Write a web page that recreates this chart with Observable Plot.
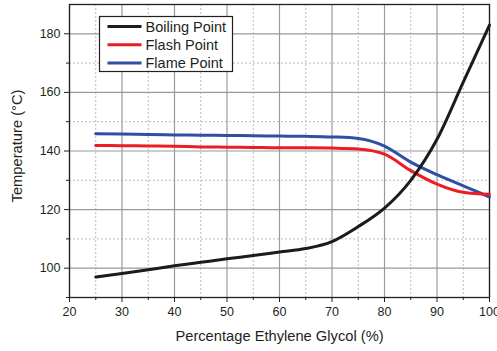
<!DOCTYPE html>
<html><head><meta charset="utf-8">
<script src="https://cdn.jsdelivr.net/npm/d3@7"></script>
<script src="https://cdn.jsdelivr.net/npm/@observablehq/plot@0.6"></script>
<style>
body{margin:0;background:#fff}
svg{font-family:"Liberation Sans",Arial,sans-serif}
</style>
</head><body><div id="chart"></div>
<script>
const seriesNames = ["Boiling Point", "Flash Point", "Flame Point"];
const seriesColors = ["#1c1a1a", "#ec1c24", "#2e4fa3"];
const xValues = [25, 30, 35, 40, 45, 50, 55, 60, 65, 70, 75, 80, 85, 90, 95, 100];
const boilingPoint = [97, 98.2, 99.5, 100.8, 102, 103.2, 104.3, 105.5, 106.7, 109.1, 114.2, 120.5, 130, 144, 163.5, 183];
const flashPoint   = [141.9, 141.8, 141.7, 141.6, 141.4, 141.3, 141.2, 141.1, 141.1, 141, 140.7, 138.9, 133.3, 128.7, 125.9, 125.2];
const flamePoint   = [145.9, 145.8, 145.6, 145.5, 145.4, 145.3, 145.2, 145.1, 145, 144.8, 144.3, 141.7, 136.2, 131.9, 128.1, 124.3];
const xMajorTicks = [20, 30, 40, 50, 60, 70, 80, 90, 100];
const xMinorTicks = [25, 35, 45, 55, 65, 75, 85, 95];
const yMajorTicks = [100, 120, 140, 160, 180];
const yMinorTicks = [90, 110, 130, 150, 170];
const xTitle = "Percentage Ethylene Glycol (%)";
const yTitle = "Temperature (°C)";

const allSeries = [boilingPoint, flashPoint, flamePoint];
const rows = [];
allSeries.forEach((vals, i) => vals.forEach((v, j) => rows.push({series: seriesNames[i], x: xValues[j], y: v})));
const drawOrder = ["Flame Point", "Flash Point", "Boiling Point"];

const plot = Plot.plot({
  width: 497, height: 351,
  marginLeft: 69, marginRight: 8, marginTop: 4, marginBottom: 54,
  style: {fontFamily: '"Liberation Sans", Arial, sans-serif', fontSize: "12.5px", color: "#231f20", background: "#fff"},
  x: {domain: [20, 100]},
  y: {domain: [90, 190]},
  color: {domain: seriesNames, range: seriesColors},
  marks: [
    Plot.gridX(xMinorTicks, {stroke: "#bbb", strokeOpacity: 1, strokeDasharray: "2,2", strokeWidth: 1}),
    Plot.gridY(yMinorTicks.filter(d => d > 90), {stroke: "#bbb", strokeOpacity: 1, strokeDasharray: "2,2", strokeWidth: 1}),
    Plot.gridX(xMajorTicks, {stroke: "#9a9a9a", strokeOpacity: 1, strokeWidth: 1.2}),
    Plot.gridY(yMajorTicks, {stroke: "#9a9a9a", strokeOpacity: 1, strokeWidth: 1.2}),
    Plot.frame({stroke: "#231f20", strokeWidth: 1.3}),
    Plot.axisX(xMajorTicks, {tickSize: 5, tickPadding: 5, label: null, fontSize: 12.5}),
    Plot.axisX(xMinorTicks, {tickSize: 3, tickFormat: () => "", label: null}),
    Plot.axisY(yMajorTicks, {tickSize: 5, tickPadding: 4, label: null, fontSize: 12.5}),
    Plot.axisY(yMinorTicks, {tickSize: 3, tickFormat: () => "", label: null}),
    ...drawOrder.map(name => Plot.line(rows.filter(r => r.series === name), {
      x: "x", y: "y", stroke: "series", strokeWidth: 3, curve: "monotone-x"
    })),
    Plot.text([xTitle], {frameAnchor: "bottom", lineAnchor: "middle", dy: 39, fontSize: 14.7, fill: "#231f20"}),
    Plot.text([yTitle], {frameAnchor: "left", textAnchor: "middle", lineAnchor: "middle", dx: -52, dy: -5, rotate: -90, fontSize: 14.7, fill: "#231f20"})
  ]
});
document.getElementById("chart").appendChild(plot);

// legend
const svg = d3.select(plot);
const lg = svg.append("g").attr("transform", "translate(99.5,16.5)");
lg.append("rect").attr("width", 133).attr("height", 55).attr("fill", "#fff").attr("stroke", "#231f20").attr("stroke-width", 1.2);
seriesNames.forEach((name, i) => {
  const yy = 10 + i * 18.3;
  lg.append("line").attr("x1", 8).attr("x2", 42).attr("y1", yy).attr("y2", yy)
    .attr("stroke", seriesColors[i]).attr("stroke-width", 3);
  lg.append("text").attr("x", 46).attr("y", yy).attr("dy", "0.36em")
    .attr("text-anchor", "start")
    .attr("font-size", 14.5).attr("fill", "#231f20").text(name);
});
</script>
</body></html>
